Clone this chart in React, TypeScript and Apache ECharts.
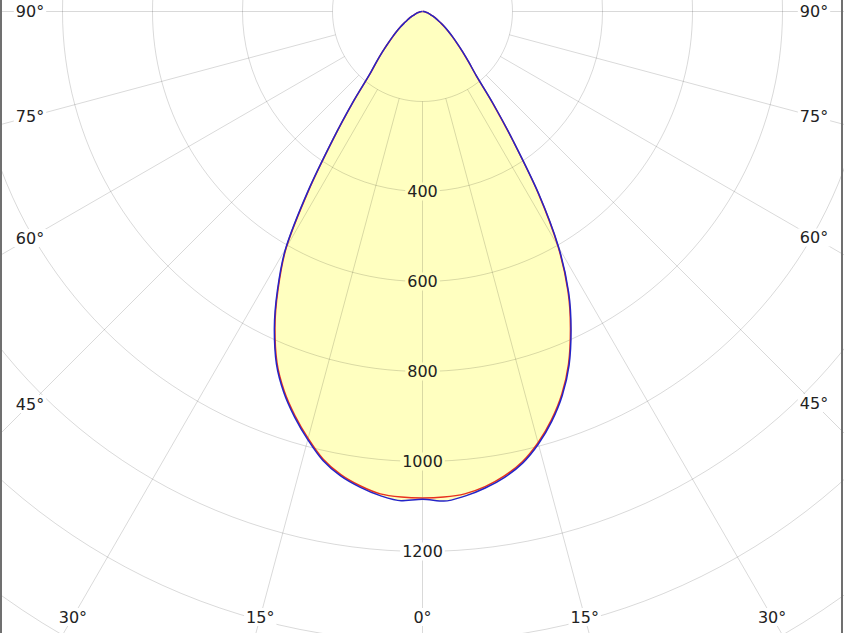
import React, { useEffect, useRef } from 'react';
import * as echarts from 'echarts';

// luminous intensity (cd) per gamma angle, two C-planes
const GAMMA = [
  0, 2.5, 5, 7.5, 10, 12.5, 15, 17.5, 20, 22.5, 25, 27.5, 30, 32.5, 35, 37.5, 40, 42.5, 45,
  47.5, 50, 52.5, 55, 57.5, 60, 62.5, 65, 67.5, 70, 72.5, 75, 77.5, 80, 82.5, 85, 87.5, 90,
];
const RED_C0 = [
  1081, 1080, 1076, 1065, 1048, 1025, 992, 952, 905, 848, 778, 700, 602, 478, 350, 255, 185, 151, 125,
  103, 86, 72, 60, 49, 40, 34, 28, 22, 18, 15, 12, 9, 7, 5, 3, 1, 0,
];
const RED_C180 = [
  1081, 1080, 1076, 1063, 1045, 1019, 982, 942, 898, 845, 776, 695, 605, 470, 345, 252, 182, 150, 124,
  102, 85, 72, 60, 49, 40, 34, 28, 22, 18, 15, 12, 9, 7, 5, 3, 1, 0,
];
const BLUE_C90 = [
  1084, 1089, 1081, 1068, 1051, 1028, 995, 955, 908, 851, 781, 703, 605, 481, 352, 257, 186, 152, 126,
  104, 87, 73, 61, 50, 41, 34, 28, 22, 18, 15, 12, 9, 7, 5, 3, 1, 0,
];
const BLUE_C270 = [
  1084, 1088, 1080, 1066, 1048, 1022, 985, 945, 901, 848, 779, 698, 608, 474, 347, 254, 184, 151, 125,
  103, 86, 72, 60, 49, 40, 34, 28, 22, 18, 15, 12, 9, 7, 5, 3, 1, 0,
];

const RADIUS_LABELS = [400, 600, 800, 1000, 1200];
const SPOKE_ANGLES = [0, 15, 30, 45, 60, 75, 90, 105, 120, 135, 150, 165, 180, 195, 210, 225, 240, 255, 270, 285, 300, 315, 330, 345];
const DEGREE_LABELS = [0, 15, 30, 45, 60, 75, 90];

const W = 844;
const H = 633;
const CX = 422.5;
const CY = 11.5;
const PX_PER_CD = 0.45;
const R_MAX = 1800;
const SPOKE_INNER = 200;

const GRID = 'rgba(0,0,0,0.15)';
const FILL = '#ffffc0';
const FONT = '16px "DejaVu Sans", Verdana, sans-serif';

// right side runs 90..0 (angle 360-g), then left side 0..90 (angle g)
function curve(right: number[], left: number[]): [number, number][] {
  const pts: [number, number][] = [];
  for (let i = right.length - 1; i >= 0; i--) pts.push([right[i], 360 - GAMMA[i]]);
  for (let i = 1; i < left.length; i++) pts.push([left[i], GAMMA[i]]);
  return pts;
}

function degreeLabels() {
  const out: any[] = [];
  const bottomY = 617;
  const sideInset = 30;
  const add = (g: number, side: number) => {
    const t = Math.tan((g * Math.PI) / 180);
    let x: number;
    let y: number;
    const xb = CX + side * (bottomY - CY) * t;
    if (g < 90 && xb >= sideInset && xb <= W - sideInset) {
      x = xb;
      y = bottomY;
    } else {
      x = side < 0 ? sideInset : W - sideInset;
      y = g === 90 ? CY : CY + Math.abs(x - CX) / t;
    }
    out.push({
      type: 'text',
      x,
      y,
      z: 10,
      silent: true,
      style: {
        text: `${g}°`,
        fill: '#222',
        font: FONT,
        align: 'center',
        verticalAlign: 'middle',
        backgroundColor: '#fff',
        padding: [1, 2],
      },
    });
  };
  DEGREE_LABELS.forEach((g) => {
    add(g, -1);
    if (g !== 0) add(g, 1);
  });
  return out;
}

export default function App() {
  const chartRef = useRef<HTMLDivElement | null>(null);

  useEffect(() => {
    if (!chartRef.current) return;
    const inst = echarts.init(chartRef.current, undefined, { renderer: 'svg' });
    const red = curve(RED_C0, RED_C180);
    const blue = curve(BLUE_C90, BLUE_C270);
    const peak = Math.max(RED_C0[0], RED_C180[0]);

    inst.setOption({
      animation: false,
      backgroundColor: '#fff',
      polar: { center: [CX, CY], radius: R_MAX * PX_PER_CD },
      angleAxis: {
        type: 'value',
        min: 0,
        max: 360,
        interval: 15,
        startAngle: 270,
        clockwise: true,
        axisLine: { show: false },
        axisTick: { show: false },
        axisLabel: { show: false },
        splitLine: { show: false },
      },
      radiusAxis: {
        type: 'value',
        min: 0,
        max: R_MAX,
        interval: 200,
        z: 2,
        axisLine: { show: false },
        axisTick: { show: false },
        axisLabel: { show: false },
        splitLine: { show: true, lineStyle: { color: GRID, width: 1 } },
      },
      graphic: [
        { type: 'line', z: 20, silent: true, shape: { x1: 1, y1: 0, x2: 1, y2: H }, style: { stroke: '#707070', lineWidth: 2 } },
        { type: 'line', z: 20, silent: true, shape: { x1: W - 2, y1: 0, x2: W - 2, y2: H }, style: { stroke: '#707070', lineWidth: 2 } },
        ...degreeLabels(),
      ],
      series: [
        {
          type: 'custom',
          coordinateSystem: 'polar',
          z: 1,
          silent: true,
          data: [[0, 0]],
          renderItem: (_p: any, api: any) => ({
            type: 'polygon',
            shape: { points: blue.map((d) => api.coord(d)), smooth: 0.3 },
            style: { fill: FILL, stroke: 'none' },
          }),
        },
        {
          type: 'custom',
          coordinateSystem: 'polar',
          z: 2,
          silent: true,
          data: SPOKE_ANGLES.map((a) => [SPOKE_INNER, a]),
          renderItem: (_p: any, api: any) => {
            const a = api.value(1);
            const p1 = api.coord([SPOKE_INNER, a]);
            const p2 = api.coord([R_MAX, a]);
            return {
              type: 'line',
              shape: { x1: p1[0], y1: p1[1], x2: p2[0], y2: p2[1] },
              style: { stroke: GRID, lineWidth: 1 },
            };
          },
        },
        {
          type: 'custom',
          coordinateSystem: 'polar',
          z: 3,
          silent: true,
          data: RADIUS_LABELS.map((v) => [v, 0]),
          renderItem: (_p: any, api: any) => {
            const v = api.value(0);
            const p = api.coord([v, 0]);
            return {
              type: 'text',
              x: p[0],
              y: p[1],
              style: {
                text: String(v),
                fill: '#222',
                font: FONT,
                align: 'center',
                verticalAlign: 'middle',
                backgroundColor: v < peak ? FILL : '#fff',
                padding: [1, 2],
              },
            };
          },
        },
        {
          type: 'line',
          coordinateSystem: 'polar',
          z: 4,
          silent: true,
          data: red,
          showSymbol: false,
          smooth: 0.3,
          lineStyle: { color: '#e8321e', width: 1.5 },
        },
        {
          type: 'line',
          coordinateSystem: 'polar',
          z: 5,
          silent: true,
          data: blue,
          showSymbol: false,
          smooth: 0.3,
          lineStyle: { color: '#2424c8', width: 1.5 },
        },
      ],
    });

    return () => {
      inst.dispose();
    };
  }, []);

  return (
    <div
      ref={chartRef}
      style={{ position: 'fixed', left: 0, top: 0, width: W, height: H, background: '#fff' }}
    />
  );
}
